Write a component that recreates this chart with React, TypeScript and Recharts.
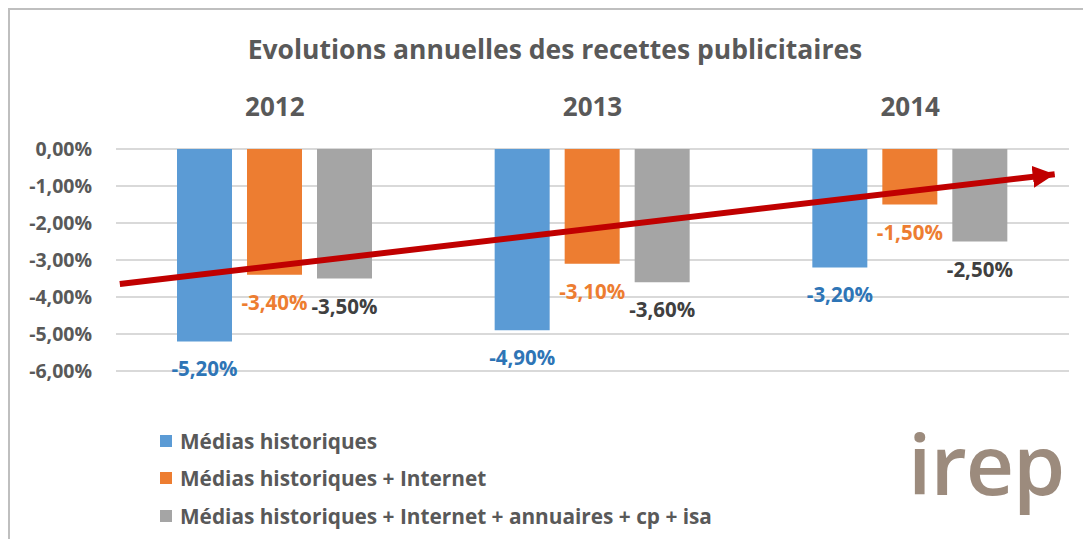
import React from 'react';
import {
  BarChart, Bar, XAxis, YAxis, CartesianGrid, ReferenceLine, LabelList,
} from 'recharts';

const years = ['2012', '2013', '2014'];
const mediasHistoriques = [-5.2, -4.9, -3.2];
const avecInternet = [-3.4, -3.1, -1.5];
const avecAnnuaires = [-3.5, -3.6, -2.5];
const yTicks = [0, -1, -2, -3, -4, -5, -6];
// trend arrow, as fraction of the plot width and % values
const trendStart = { x: 0.004, y: -3.65 };
const trendEnd = { x: 0.985, y: -0.68 };

const series = [
  { key: 'historiques', name: 'Médias historiques', fill: '#5B9BD5', labelColor: '#2E75B6' },
  { key: 'internet', name: 'Médias historiques + Internet', fill: '#ED7D31', labelColor: '#ED7D31' },
  { key: 'annuaires', name: 'Médias historiques + Internet + annuaires + cp + isa', fill: '#A5A5A5', labelColor: '#404040' },
];

const data = years.map((year, i) => ({
  year,
  historiques: mediasHistoriques[i],
  internet: avecInternet[i],
  annuaires: avecAnnuaires[i],
}));

const FONT = '"Open Sans", Lato, sans-serif';
const TEXT = '#595959';

const fmt = (v: number) => `${v.toFixed(2).replace('.', ',')}%`;

function makeLabel(color: string) {
  return (props: any) => {
    const { x, y, width, height, value } = props;
    const end = Math.max(y, y + height);
    return (
      <text
        x={x + width / 2}
        y={end + 35}
        textAnchor="middle"
        fill={color}
        fontFamily={FONT}
        fontWeight={700}
        fontSize={20.5}
      >
        {fmt(value)}
      </text>
    );
  };
}

export default function App() {
  return (
    <div
      style={{
        position: 'relative',
        width: 1090,
        height: 540,
        borderTop: '2px solid #BFBFBF',
        borderLeft: '2px solid #BFBFBF',
        fontFamily: FONT,
        background: '#fff',
      }}
    >
      <div
        style={{
          position: 'absolute', left: 0, width: 1090, top: 21, textAlign: 'center',
          fontSize: 26.5, fontWeight: 700, color: TEXT,
        }}
      >
        Evolutions annuelles des recettes publicitaires
      </div>
      <div style={{ position: 'absolute', left: 0, top: 0 }}>
        <BarChart
          width={1081}
          height={529}
          data={data}
          margin={{ top: 79, right: 22, left: 0, bottom: 168 }}
          barSize={55}
          barGap={15}
        >
          <defs>
            <marker
              id="arrowHead"
              markerUnits="userSpaceOnUse"
              markerWidth={24}
              markerHeight={24}
              refX={22}
              refY={12}
              orient="auto"
            >
              <path d="M0,1 L22,12 L0,23 Z" fill="#C00000" />
            </marker>
          </defs>
          <CartesianGrid vertical={false} stroke="#D9D9D9" strokeWidth={2} />
          <XAxis
            dataKey="year"
            orientation="top"
            height={60}
            axisLine={false}
            tickLine={false}
            tickSize={0}
            tickMargin={33}
            tick={{ fill: TEXT, fontSize: 26, fontWeight: 700, fontFamily: FONT }}
          />
          <XAxis
            xAxisId="trend"
            dataKey="trendPos"
            type="number"
            domain={[0, 1]}
            allowDataOverflow
            hide
          />
          <YAxis
            domain={[-6, 0]}
            ticks={yTicks}
            width={106}
            axisLine={false}
            tickLine={false}
            tickSize={0}
            tickMargin={24}
            tickFormatter={fmt}
            tick={{ fill: TEXT, fontSize: 19.5, fontWeight: 700, fontFamily: FONT }}
          />
          {series.map((s) => (
            <Bar key={s.key} dataKey={s.key} fill={s.fill} isAnimationActive={false}>
              <LabelList dataKey={s.key} content={makeLabel(s.labelColor)} />
            </Bar>
          ))}
          <ReferenceLine
            xAxisId="trend"
            segment={[trendStart, trendEnd]}
            stroke="#C00000"
            strokeWidth={6}
            markerEnd="url(#arrowHead)"
            ifOverflow="visible"
          />
        </BarChart>
      </div>
      <div style={{ position: 'absolute', left: 150, top: 412 }}>
        {series.map((s) => (
          <div
            key={s.key}
            style={{
              display: 'flex', alignItems: 'center', height: 37.5,
              fontSize: 20.8, fontWeight: 700, color: TEXT,
            }}
          >
            <span style={{ width: 12, height: 12, background: s.fill, marginRight: 8, display: 'inline-block' }} />
            {s.name}
          </div>
        ))}
      </div>
      <div
        style={{
          position: 'absolute', left: 898, top: 395, fontSize: 84,
          fontFamily: '"Open Sans", sans-serif', fontWeight: 600, color: '#9C8B7D',
          letterSpacing: -1,
        }}
      >
        irep
      </div>
    </div>
  );
}
